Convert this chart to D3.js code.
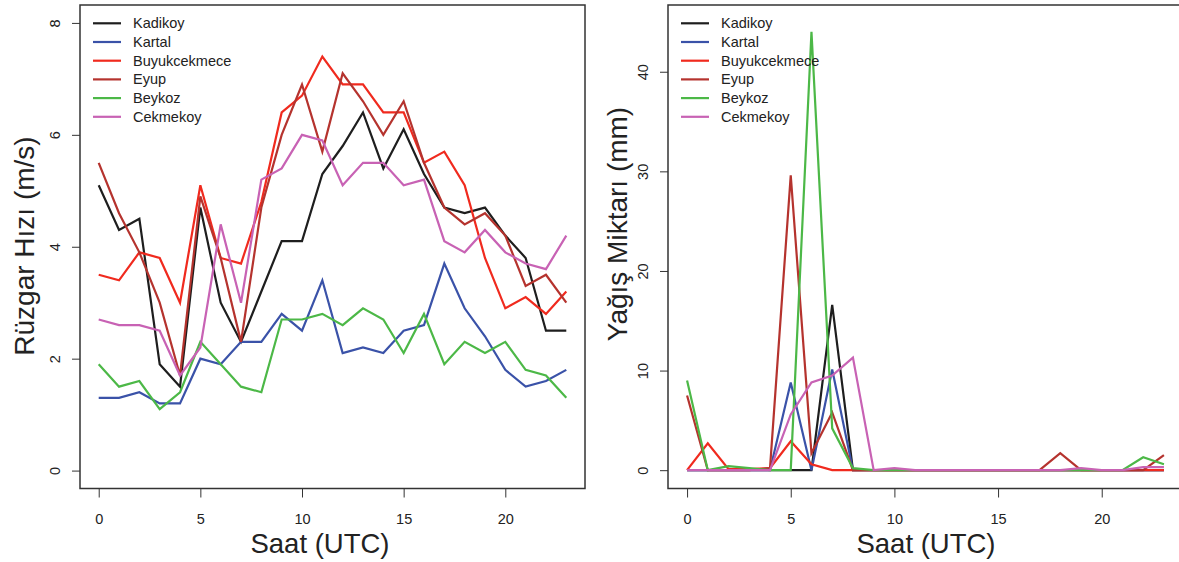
<!DOCTYPE html>
<html>
<head>
<meta charset="utf-8">
<script src="https://cdn.jsdelivr.net/npm/d3@7"></script>
<style>
  body { margin: 0; background: #fff; }
  svg { display: block; font-family: "Liberation Sans", Arial, sans-serif; }
</style>
</head>
<body>
<svg id="chart" width="1179" height="562"></svg>
<script>
// hours 0..23
const hours = d3.range(0, 24);
const stations = ["Kadikoy", "Kartal", "Buyukcekmece", "Eyup", "Beykoz", "Cekmekoy"];
const colors = ["#1e1e1e", "#3a52a8", "#f02a1e", "#b5332e", "#4cb847", "#c862b4"];

// wind speed (m/s)
const windKadikoy      = [5.1, 4.3, 4.5, 1.9, 1.5, 4.7, 3.0, 2.3, 3.2, 4.1, 4.1, 5.3, 5.8, 6.4, 5.4, 6.1, 5.3, 4.7, 4.6, 4.7, 4.2, 3.8, 2.5, 2.5];
const windKartal       = [1.3, 1.3, 1.4, 1.2, 1.2, 2.0, 1.9, 2.3, 2.3, 2.8, 2.5, 3.4, 2.1, 2.2, 2.1, 2.5, 2.6, 3.7, 2.9, 2.4, 1.8, 1.5, 1.6, 1.8];
const windBuyukcekmece = [3.5, 3.4, 3.9, 3.8, 3.0, 5.1, 3.8, 3.7, 4.8, 6.4, 6.7, 7.4, 6.9, 6.9, 6.4, 6.4, 5.5, 5.7, 5.1, 3.8, 2.9, 3.1, 2.8, 3.2];
const windEyup         = [5.5, 4.6, 3.9, 3.0, 1.7, 4.9, 3.8, 2.3, 4.7, 6.0, 6.9, 5.7, 7.1, 6.6, 6.0, 6.6, 5.5, 4.7, 4.4, 4.6, 4.2, 3.3, 3.5, 3.0];
const windBeykoz       = [1.9, 1.5, 1.6, 1.1, 1.4, 2.3, 1.9, 1.5, 1.4, 2.7, 2.7, 2.8, 2.6, 2.9, 2.7, 2.1, 2.8, 1.9, 2.3, 2.1, 2.3, 1.8, 1.7, 1.3];
const windCekmekoy     = [2.7, 2.6, 2.6, 2.5, 1.7, 2.2, 4.4, 3.0, 5.2, 5.4, 6.0, 5.9, 5.1, 5.5, 5.5, 5.1, 5.2, 4.1, 3.9, 4.3, 3.9, 3.7, 3.6, 4.2];

// precipitation (mm)
const rainKadikoy      = [0, 0, 0, 0, 0, 0, 0, 16.6, 0, 0, 0, 0, 0, 0, 0, 0, 0, 0, 0, 0, 0, 0, 0, 0];
const rainKartal       = [0, 0, 0, 0, 0, 8.8, 0, 10.1, 0, 0, 0, 0, 0, 0, 0, 0, 0, 0, 0, 0, 0, 0, 0, 0];
const rainBuyukcekmece = [0, 2.7, 0.1, 0.1, 0.2, 2.9, 0.6, 0, 0, 0, 0, 0, 0, 0, 0, 0, 0, 0, 0, 0, 0, 0, 0, 0];
const rainEyup         = [7.5, 0, 0, 0, 0.2, 29.6, 1.7, 5.8, 0, 0, 0, 0, 0, 0, 0, 0, 0, 0, 1.7, 0, 0, 0, 0, 1.5];
const rainBeykoz       = [9.0, 0, 0.4, 0.2, 0, 0, 44.0, 4.2, 0.2, 0, 0, 0, 0, 0, 0, 0, 0, 0, 0, 0, 0, 0, 1.3, 0.6];
const rainCekmekoy     = [0, 0, 0, 0, 0, 5.6, 8.8, 9.5, 11.3, 0, 0.2, 0, 0, 0, 0, 0, 0, 0, 0, 0.2, 0, 0, 0.3, 0.3];

const windSeries = [windKadikoy, windKartal, windBuyukcekmece, windEyup, windBeykoz, windCekmekoy];
const rainSeries = [rainKadikoy, rainKartal, rainBuyukcekmece, rainEyup, rainBeykoz, rainCekmekoy];

const xTicks = [0, 5, 10, 15, 20];
const windTicks = [0, 2, 4, 6, 8];
const rainTicks = [0, 10, 20, 30, 40];

const svg = d3.select("#chart");

function drawPanel(opts) {
    const { left, right, top, bottom, yDomain, yTicks, series, yTitle, yTitleX, yTitleY, xTitleX } = opts;
    const x = d3.scaleLinear().domain([-0.92, 23.92]).range([left, right]);
    const y = d3.scaleLinear().domain(yDomain).range([bottom, top]);
    const g = svg.append("g");

    // x axis
    const xa = g.append("g")
        .attr("transform", `translate(0,${bottom})`)
        .call(d3.axisBottom(x).tickValues(xTicks).tickSize(9).tickSizeOuter(0).tickPadding(16).tickFormat(d3.format("d")));
    xa.select(".domain").remove();

    // y axis with rotated labels
    const ya = g.append("g")
        .attr("transform", `translate(${left},0)`)
        .call(d3.axisLeft(y).tickValues(yTicks).tickSize(8).tickSizeOuter(0).tickFormat(d3.format("d")));
    ya.select(".domain").remove();
    ya.selectAll(".tick text")
        .attr("x", null).attr("dy", null)
        .attr("text-anchor", "middle")
        .attr("transform", "translate(-20,0) rotate(-90)");

    g.selectAll(".tick line").attr("stroke", "#333").attr("stroke-width", 1);
    g.selectAll(".tick text").attr("font-size", 14.5).attr("fill", "#222")
        .attr("font-family", "'Liberation Sans', Arial, sans-serif");

    // lines
    const line = d3.line().x((d, i) => x(hours[i])).y(d => y(d));
    g.selectAll("path.series")
        .data(series)
        .enter().append("path")
        .attr("class", "series")
        .attr("d", line)
        .attr("fill", "none")
        .attr("stroke", (d, i) => colors[i])
        .attr("stroke-width", 2.2)
        .attr("stroke-linejoin", "miter");

    // frame
    g.append("rect")
        .attr("x", left).attr("y", top)
        .attr("width", right - left).attr("height", bottom - top)
        .attr("fill", "none").attr("stroke", "#333").attr("stroke-width", 1.5);

    // legend
    const lg = g.append("g");
    stations.forEach((s, i) => {
        const ly = 23.3 + i * 18.7;
        lg.append("line")
            .attr("x1", left + 13).attr("x2", left + 41)
            .attr("y1", ly).attr("y2", ly)
            .attr("stroke", colors[i]).attr("stroke-width", 2.2);
        lg.append("text")
            .attr("x", left + 53).attr("y", ly + 5)
            .attr("font-size", 14.5).attr("fill", "#222")
            .text(s);
    });

    // titles
    g.append("text")
        .attr("x", xTitleX).attr("y", 553)
        .attr("text-anchor", "middle").attr("font-size", 27.5).attr("fill", "#222")
        .text("Saat (UTC)");
    g.append("text")
        .attr("transform", `translate(${yTitleX},${yTitleY}) rotate(-90)`)
        .attr("text-anchor", "middle").attr("font-size", 28).attr("fill", "#222")
        .text(yTitle);
}

drawPanel({
    left: 80, right: 585, top: 5, bottom: 488.5,
    yDomain: [-0.32, 8.32], yTicks: windTicks, series: windSeries,
    yTitle: "Rüzgar Hızı (m/s)", yTitleX: 34, yTitleY: 246, xTitleX: 320
});

drawPanel({
    left: 668, right: 1183, top: 5, bottom: 488.5,
    yDomain: [-1.84, 46.7], yTicks: rainTicks, series: rainSeries,
    yTitle: "Yağış Miktarı (mm)", yTitleX: 627, yTitleY: 224, xTitleX: 926
});
</script>
</body>
</html>
